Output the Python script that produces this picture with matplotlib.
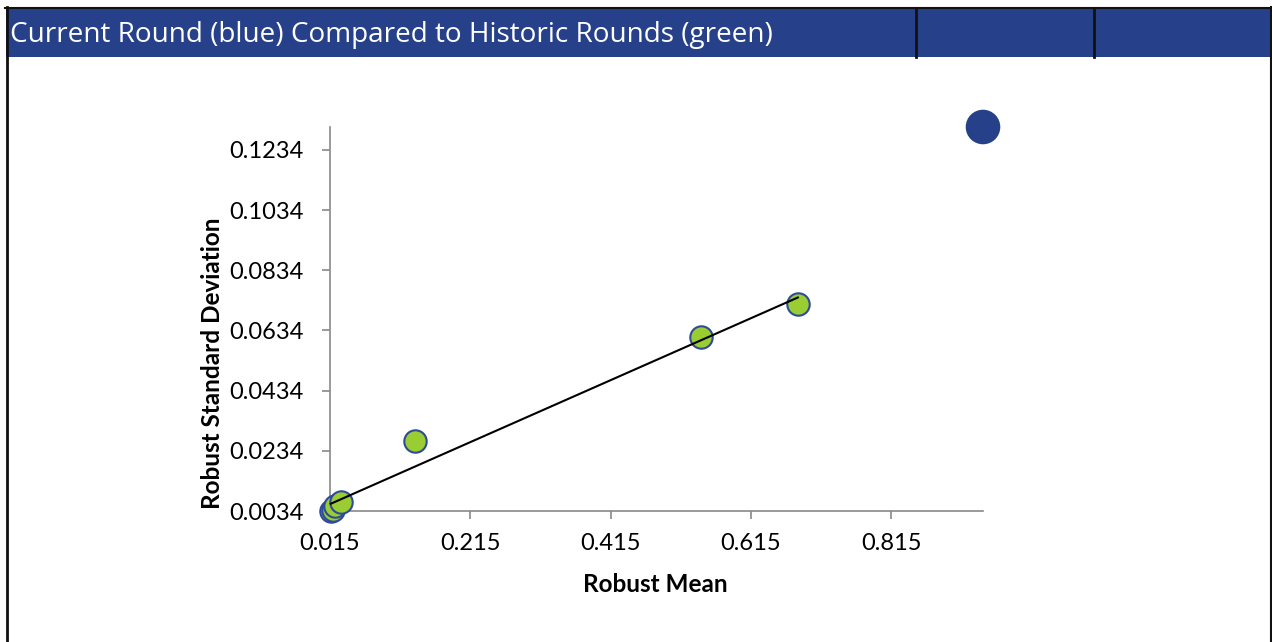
import matplotlib
matplotlib.use("Agg")
import matplotlib.pyplot as plt
import numpy as np
from matplotlib.patches import Rectangle
from matplotlib.lines import Line2D

# Data
hist_x = [0.016, 0.019, 0.022, 0.030, 0.136, 0.544, 0.682]
hist_y = [0.0034, 0.0036, 0.0050, 0.0064, 0.0266, 0.0611, 0.0721]
curr_x = [0.946]
curr_y = [0.1310]
xticks = [0.015, 0.215, 0.415, 0.615, 0.815]
yticks = [0.0034, 0.0234, 0.0434, 0.0634, 0.0834, 0.1034, 0.1234]
title = "Current Round (blue) Compared to Historic Rounds (green)"

W, H = 1272, 642
fig = plt.figure(figsize=(W / 100, H / 100), dpi=100)
fig.patch.set_facecolor("white")

def fx(px):
    return px / W

def fy(py):
    return 1 - py / H

# Header bar
fig.patches.append(Rectangle((fx(6), fy(57)), fx(1270) - fx(6), fy(9) - fy(57),
                             transform=fig.transFigure, facecolor="#26418A",
                             edgecolor="none", zorder=0))
# Borders
fig.lines.append(Line2D([fx(5), fx(1271)], [fy(7.5), fy(7.5)], transform=fig.transFigure,
                        color="#111111", lw=1.5))
fig.lines.append(Line2D([fx(6.5), fx(6.5)], [fy(7), fy(642)], transform=fig.transFigure,
                        color="#111111", lw=2))
fig.lines.append(Line2D([fx(1270.5), fx(1270.5)], [fy(7), fy(642)], transform=fig.transFigure,
                        color="#111111", lw=1.5))
for xv in (916, 1094):
    fig.lines.append(Line2D([fx(xv), fx(xv)], [fy(8), fy(57)], transform=fig.transFigure,
                            color="#111111", lw=2))

fig.text(fx(10), fy(35), title, color="white", fontsize=20.1, family="Open Sans",
         va="center", ha="left")

ax = fig.add_axes([fx(330), fy(511), fx(983) - fx(330), fy(127) - fy(511)])
ax.set_xlim(0.015, 0.946)
ax.set_ylim(0.0034, 0.1310)
for s in ("top", "right"):
    ax.spines[s].set_visible(False)
for s in ("left", "bottom"):
    ax.spines[s].set_color("#898989")
    ax.spines[s].set_linewidth(1.2)
ax.set_xticks(xticks)
ax.set_xticklabels([f"{v:.3f}" for v in xticks])
ax.set_yticks(yticks)
ax.set_yticklabels([f"{v:.4f}" for v in yticks])
ax.tick_params(axis="both", direction="out", length=6, width=1.2, color="#898989",
               labelsize=17)
ax.tick_params(axis="y", pad=13)
ax.tick_params(axis="x", pad=10)
for lab in ax.get_xticklabels() + ax.get_yticklabels():
    lab.set_family("Lato")

# Trend line
coef = np.polyfit(hist_x, hist_y, 1)
xl = np.array([min(hist_x), max(hist_x)])
ax.plot(xl, np.polyval(coef, xl), color="black", lw=1.5, zorder=4, clip_on=False)

ax.scatter(hist_x, hist_y, s=260, color="#9ACD32", edgecolor="#2E4A9A", linewidth=1.5,
           zorder=3, clip_on=False)
ax.scatter(curr_x, curr_y, s=620, color="#26418A", edgecolor="none", zorder=5, clip_on=False)

ax.set_xlabel("Robust Mean", fontsize=17.5, fontweight="bold", family="Lato")
ax.set_ylabel("Robust Standard Deviation", fontsize=17.5, fontweight="bold", family="Lato")
ax.xaxis.label.set_va("center")
ax.xaxis.label.set_ha("center")
ax.yaxis.label.set_va("center")
ax.yaxis.label.set_ha("center")
ax.xaxis.set_label_coords((655 - 330) / 653, (511 - 584) / 384)
ax.yaxis.set_label_coords((213 - 330) / 653, (511 - 363) / 384)

fig.savefig("out.png", dpi=100)
